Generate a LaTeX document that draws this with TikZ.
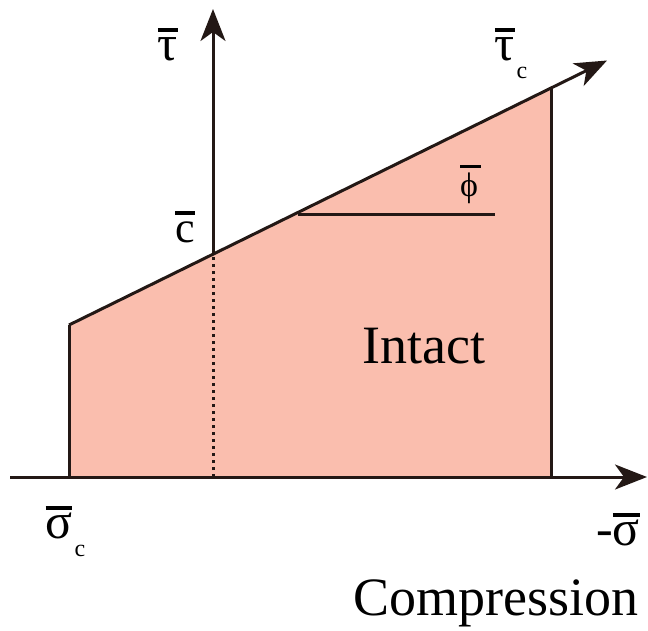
\documentclass[tikz,border=0pt]{standalone}
\usepackage{fontspec}
\setmainfont{Liberation Serif}
\usetikzlibrary{arrows.meta}
\definecolor{fillc}{RGB}{250,190,174}
\definecolor{linec}{RGB}{35,24,21}
% letter with a thick bar above: #1 = height of bar above baseline, #2 = letter
\newcommand\ovl[2]{\setbox0\hbox{#2}\leavevmode\rlap{\raisebox{#1}{\rule{\wd0}{3.6pt}}}\box0}
% same, with a bar of given width: #1 = raise, #2 = bar width, #3 = letter
\newcommand\ovlw[3]{\leavevmode\rlap{\raisebox{#1}{\rule{#2}{3.2pt}}}#3}
\tikzset{
  axisline/.style={draw=linec, line width=3pt, -{Stealth[length=32pt,width=25pt,inset=9pt]}},
  edgeline/.style={draw=linec, line width=3pt},
  dotline/.style={draw=linec, line width=3pt, dash pattern=on 3.5pt off 3.5pt},
  greeklabel/.style={inner sep=0pt, anchor=base, font=\fontsize{50}{50}\selectfont},
  latinlabel/.style={inner sep=0pt, anchor=base, font=\fontsize{44}{44}\selectfont},
  wordlabel/.style={inner sep=0pt, anchor=base west, font=\fontsize{54}{54}\selectfont},
  sublabel/.style={inner sep=0pt, anchor=base, font=\fontsize{24}{24}\selectfont},
}
\begin{document}
\begin{tikzpicture}[x=1pt,y=-1pt]
\useasboundingbox (0,0) rectangle (648,630);
% coordinates
\coordinate (hstart) at (10,477);
\coordinate (hend) at (647,477);
\coordinate (leftbot) at (69,477);
\coordinate (lefttop) at (69,325);
\coordinate (righttop) at (551,88);
\coordinate (rightbot) at (551,477);
\coordinate (envtip) at (607,60.5);
\coordinate (cpt) at (213,253);
\coordinate (vbot) at (213,477);
\coordinate (vtip) at (213,9);
\coordinate (phia) at (298,214);
\coordinate (phib) at (495,214);
% fill region
\fill[fillc] (leftbot) -- (lefttop) -- (righttop) -- (rightbot) -- cycle;
% edges
\draw[edgeline] (leftbot) -- (lefttop);
\draw[edgeline] (rightbot) -- (righttop);
\draw[dotline] (vbot) -- (cpt);
\draw[edgeline] (phia) -- (phib);
% axes
\draw[axisline] (hstart) -- (hend);
\draw[axisline] (cpt) -- (vtip);
\draw[axisline] (lefttop) -- (envtip);
% labels
\node[greeklabel] (tau) at (168,60) {\ovl{28pt}{τ}};
\node[greeklabel] (tauc) at (505,60) {\ovl{28pt}{τ}};
\node[sublabel] (taucsub) at (522,78) {c};
\node[latinlabel] (cbar) at (185,242) {\ovl{27pt}{c}};
\node[inner sep=0pt, anchor=base west, font=\fontsize{34}{34}\selectfont] (phi) at (460,196) {\ovlw{28pt}{21pt}{ϕ}};
\node[wordlabel] (intact) at (362,363) {Intact};
\node[greeklabel] (sigc) at (59,538) {\ovl{28pt}{σ}};
\node[sublabel] (sigcsub) at (80,556) {c};
\node[greeklabel] (negsig) at (618,545) {-\ovl{28pt}{σ}};
\node[wordlabel] (compr) at (353,615) {Compression};
\end{tikzpicture}
\end{document}
